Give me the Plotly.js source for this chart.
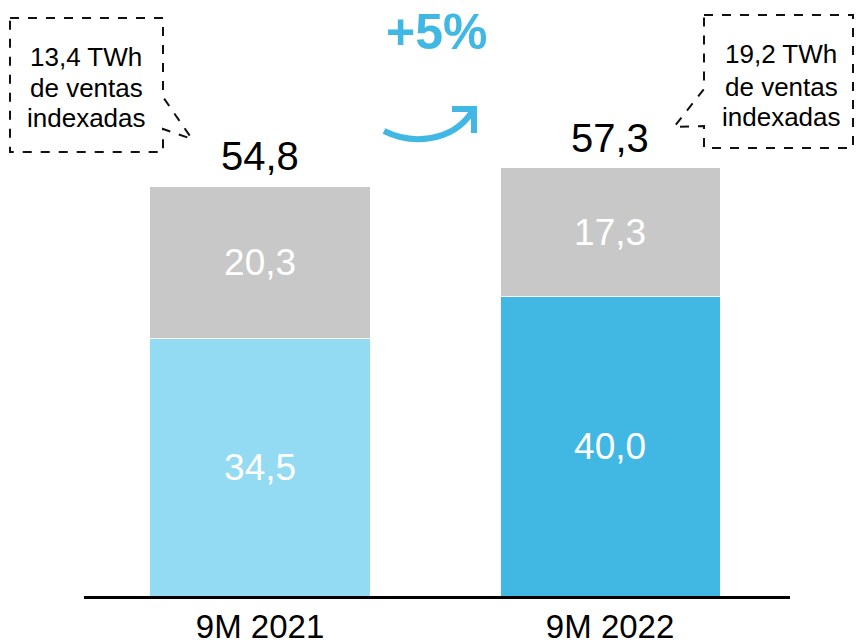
<!DOCTYPE html>
<html>
<head>
<meta charset="utf-8">
<script src="https://cdn.plot.ly/plotly-3.0.1.min.js"></script>
<style>html,body{margin:0;padding:0;background:#fff;}#chart{width:856px;height:642px;}</style>
</head>
<body>
<div id="chart"></div>
<script>
// ---- data ----
const categories = ['9M 2021', '9M 2022'];
const baseValues = [34.5, 40.0];      // blue segment
const otherValues = [20.3, 17.3];     // grey segment
const totals = [54.8, 57.3];
const growthLabel = '+5%';
const calloutLines = [
  ['13,4 TWh', 'de ventas', 'indexadas'],
  ['19,2 TWh', 'de ventas', 'indexadas']
];

// ---- layout geometry ----
const W = 856, H = 642;
const M = {l: 84, r: 66, t: 0, b: 46};
const PW = W - M.l - M.r, PH = H - M.t - M.b;
const px = x => (x - M.l) / PW;
const py = y => (H - M.b - y) / PH;
function path(pts, close) {
  return 'M ' + pts.map(p => px(p[0]).toFixed(5) + ',' + py(p[1]).toFixed(5)).join(' L ') + (close ? ' Z' : '');
}
const fmt = v => v.toFixed(1).replace('.', ',');
const FONT = 'Liberation Sans, Arial, sans-serif';
const BLUE = '#41B8E4';

const traces = [
  {
    type: 'bar', x: categories, y: baseValues,
    marker: {color: ['#93DAF3', BLUE], line: {color: '#ffffff', width: 1}},
    width: 0.629,
    text: baseValues.map(fmt), textposition: 'inside', insidetextanchor: 'middle',
    textfont: {family: FONT, size: 37, color: '#ffffff'},
    constraintext: 'none', hoverinfo: 'skip'
  },
  {
    type: 'bar', x: categories, y: otherValues,
    marker: {color: '#C8C8C8', line: {color: '#ffffff', width: 1}},
    width: 0.629,
    text: otherValues.map(fmt), textposition: 'inside', insidetextanchor: 'middle',
    textfont: {family: FONT, size: 37, color: '#ffffff'},
    constraintext: 'none', hoverinfo: 'skip'
  }
];

const annotations = categories.map((c, i) => ({
  x: c, y: totals[i], xref: 'x', yref: 'y',
  text: fmt(totals[i]), showarrow: false, yanchor: 'middle', yshift: 30,
  font: {family: FONT, size: 40, color: '#000000'}
}));
annotations.push({
  xref: 'paper', yref: 'paper', x: px(436), y: py(32),
  text: '<b>' + growthLabel + '</b>', showarrow: false, xanchor: 'center', yanchor: 'middle',
  font: {family: FONT, size: 50, color: BLUE}
});
const calloutPos = [{x: 86, ys: [57, 88, 118]}, {x: 781, ys: [54, 87, 117]}];
calloutLines.forEach((lines, k) => {
  lines.forEach((t, j) => {
    annotations.push({
      xref: 'paper', yref: 'paper', x: px(calloutPos[k].x), y: py(calloutPos[k].ys[j]),
      text: t, showarrow: false, xanchor: 'center', yanchor: 'middle',
      font: {family: FONT, size: 26, color: '#000000'}
    });
  });
});

const dashLine = {color: '#111111', width: 2, dash: 'dash'};
const shapes = [
  {type: 'path', xref: 'paper', yref: 'paper', line: dashLine, fillcolor: 'rgba(0,0,0,0)',
   path: path([[10,18],[163,18],[163,97],[192,139],[163,129],[163,152],[10,152]], true)},
  {type: 'path', xref: 'paper', yref: 'paper', line: dashLine, fillcolor: 'rgba(0,0,0,0)',
   path: path([[704,15],[853,15],[853,148],[704,148],[704,126],[674,127],[704,89]], true)},
  // curved arrow
  {type: 'path', xref: 'paper', yref: 'paper', line: {color: BLUE, width: 6},
   path: 'M ' + px(384) + ',' + py(131) + ' C ' + px(412) + ',' + py(145) + ' ' + px(452) + ',' + py(142) + ' ' + px(472) + ',' + py(112)},
  {type: 'path', xref: 'paper', yref: 'paper', line: {color: BLUE, width: 6},
   path: path([[452,109],[474,109],[474,133]], false)}
];

const layout = {
  width: W, height: H,
  margin: M,
  paper_bgcolor: '#ffffff', plot_bgcolor: '#ffffff',
  barmode: 'stack', showlegend: false,
  xaxis: {
    type: 'category', range: [-0.503, 1.514],
    showline: true, linecolor: '#000000', linewidth: 2.5,
    showgrid: false, zeroline: false, ticks: '',
    ticklabelstandoff: 0,
    tickfont: {family: FONT, size: 33, color: '#000000'}
  },
  yaxis: {range: [0, 79.7], visible: false, showgrid: false, zeroline: false},
  annotations: annotations,
  shapes: shapes
};

Plotly.newPlot('chart', traces, layout, {staticPlot: true, displayModeBar: false});
</script>
</body>
</html>
